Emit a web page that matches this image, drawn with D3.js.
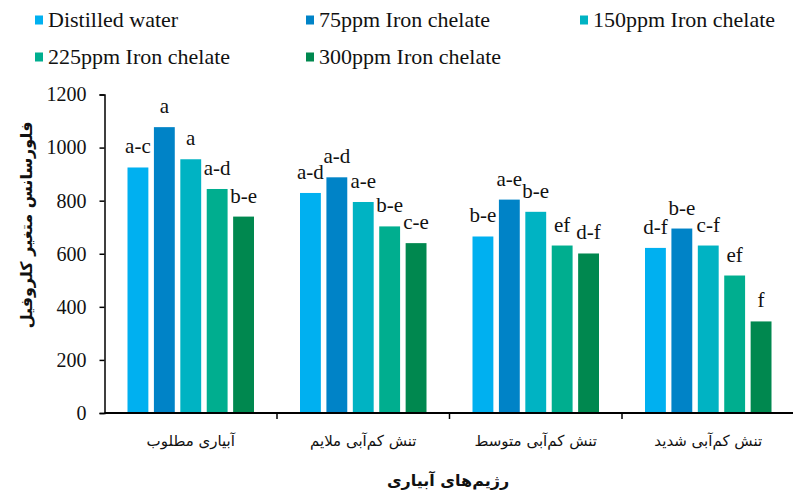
<!DOCTYPE html>
<html>
<head>
<meta charset="utf-8">
<script src="https://cdn.jsdelivr.net/npm/d3@7"></script>
<style>
  html, body { margin: 0; padding: 0; background: #fff; }
  svg { display: block; }
</style>
</head>
<body>
<svg id="chart" width="793" height="490"></svg>
<script>
// Irrigation regimes (x categories)
const categories = ["آبیاری مطلوب", "تنش کم‌آبی ملایم", "تنش کم‌آبی متوسط", "تنش کم‌آبی شدید"];

// Treatments (series)
const seriesNames = ["Distilled water", "75ppm Iron chelate", "150ppm Iron chelate", "225ppm Iron chelate", "300ppm Iron chelate"];

// Variable chlorophyll fluorescence per treatment, one value per regime
const distilledWater = [925, 829, 665, 622];
const iron75 = [1077, 888, 804, 695];
const iron150 = [956, 795, 758, 631];
const iron225 = [844, 703, 631, 518];
const iron300 = [740, 640, 601, 345];

// Mean-separation letters
const lettersDW = ["a-c", "a-d", "b-e", "d-f"];
const letters75 = ["a", "a-d", "a-e", "b-e"];
const letters150 = ["a", "a-e", "b-e", "c-f"];
const letters225 = ["a-d", "b-e", "ef", "ef"];
const letters300 = ["b-e", "c-e", "d-f", "f"];

const yTicks = [0, 200, 400, 600, 800, 1000, 1200];

const seriesValues = [distilledWater, iron75, iron150, iron225, iron300];
const seriesLetters = [lettersDW, letters75, letters150, letters225, letters300];
const colors = ["#00B0F0", "#0083C7", "#00B3C3", "#00AE8F", "#00884F"];

const svg = d3.select("#chart");
const serif = "'Liberation Serif', 'Times New Roman', serif";
const persian = "'DejaVu Sans', sans-serif";

const x0 = d3.scaleBand().domain(d3.range(categories.length)).range([104.5, 794.5]);
const x1 = d3.scaleBand().domain(d3.range(seriesNames.length))
  .range([23, x0.bandwidth() - 23]).paddingInner(0.21);
const y = d3.scaleLinear().domain([0, 1200]).range([413, 94.5]);

// Bars
const groups = svg.append("g").selectAll("g")
  .data(seriesValues)
  .join("g")
  .attr("fill", (d, i) => colors[i]);

groups.selectAll("rect")
  .data((vals, si) => vals.map((v, ci) => ({ v, ci, si })))
  .join("rect")
  .attr("x", d => x0(d.ci) + x1(d.si))
  .attr("width", x1.bandwidth())
  .attr("y", d => y(d.v))
  .attr("height", d => y(0) - y(d.v));

// Letters above bars
const labelLayer = svg.append("g")
  .attr("font-family", serif)
  .attr("font-size", 21)
  .attr("fill", "#111")
  .attr("text-anchor", "middle");

seriesValues.forEach((vals, si) => {
  vals.forEach((v, ci) => {
    labelLayer.append("text")
      .attr("x", x0(ci) + x1(si) + x1.bandwidth() / 2)
      .attr("y", y(v) - 14)
      .text(seriesLetters[si][ci]);
  });
});

// Y axis
const yAxis = svg.append("g")
  .attr("transform", "translate(104.5,0)")
  .call(d3.axisLeft(y).tickValues(yTicks).tickSize(5).tickPadding(13).tickFormat(d3.format("d")));
yAxis.select(".domain").attr("stroke", "#000").attr("stroke-width", 1.5);
yAxis.selectAll(".tick line").attr("stroke", "#000").attr("stroke-width", 1.5);
yAxis.selectAll(".tick text")
  .attr("font-family", serif).attr("font-size", 20).attr("fill", "#111");

// X axis
const xAxisG = svg.append("g").attr("transform", "translate(0,413)");
xAxisG.append("line")
  .attr("x1", 104.5).attr("x2", 793)
  .attr("stroke", "#000").attr("stroke-width", 1.8);
xAxisG.selectAll("line.tk")
  .data(d3.range(1, categories.length))
  .join("line")
  .attr("class", "tk")
  .attr("x1", d => x0(d)).attr("x2", d => x0(d))
  .attr("y1", 0).attr("y2", 6)
  .attr("stroke", "#000").attr("stroke-width", 1.5);
xAxisG.selectAll("text")
  .data(categories)
  .join("text")
  .attr("x", (d, i) => x0(i) + x0.bandwidth() / 2)
  .attr("y", 33)
  .attr("text-anchor", "middle")
  .attr("direction", "rtl")
  .attr("font-family", persian)
  .attr("font-size", 15)
  .attr("fill", "#111")
  .text(d => d);

// Axis titles
svg.append("text")
  .attr("x", 448)
  .attr("y", 486)
  .attr("text-anchor", "middle")
  .attr("direction", "rtl")
  .attr("font-family", persian)
  .attr("font-weight", "bold")
  .attr("font-size", 16)
  .attr("fill", "#111")
  .text("رژیم‌های آبیاری");

svg.append("text")
  .attr("transform", "translate(32,225) rotate(-90)")
  .attr("text-anchor", "middle")
  .attr("direction", "rtl")
  .attr("font-family", persian)
  .attr("font-weight", "bold")
  .attr("font-size", 16)
  .attr("fill", "#111")
  .text("فلورسانس متغیر کلروفیل");

// Legend
const legendPos = [[35, 20], [306, 20], [580, 20], [35, 57], [306, 57]];
const legend = svg.append("g").selectAll("g")
  .data(seriesNames)
  .join("g")
  .attr("transform", (d, i) => `translate(${legendPos[i][0]},${legendPos[i][1]})`);
legend.append("rect")
  .attr("x", 0).attr("y", -4.5)
  .attr("width", 8).attr("height", 9)
  .attr("fill", (d, i) => colors[i]);
legend.append("text")
  .attr("x", 13).attr("y", 7)
  .attr("font-family", serif)
  .attr("font-size", 22)
  .attr("fill", "#111")
  .text(d => d);
</script>
</body>
</html>
